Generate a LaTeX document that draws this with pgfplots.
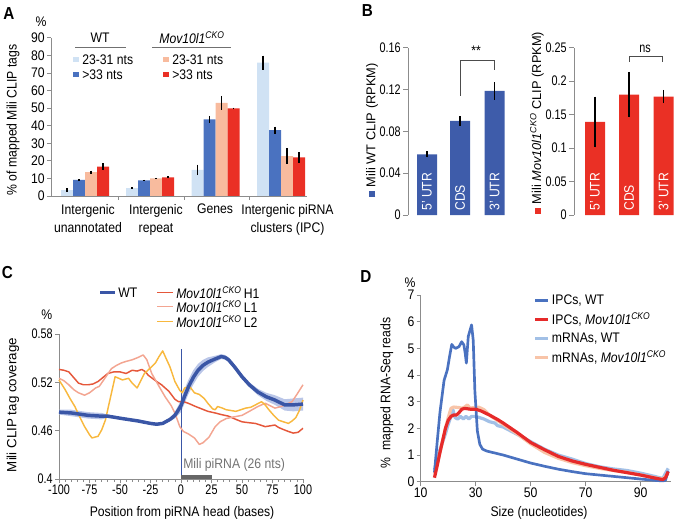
\documentclass[border=0pt]{standalone}
\usepackage{pgfplots}
\pgfplotsset{compat=1.18}
\usepackage{pgfplotstable}
\usepackage{fontspec}
\setmainfont[FakeStretch=0.88]{Liberation Sans}
\newfontfamily\nf[FakeStretch=0.78]{Liberation Sans}
\newfontfamily\wf{Liberation Sans}

\definecolor{axgray}{HTML}{8C8C8C}
\definecolor{lblue}{HTML}{D0E2F4}
\definecolor{mblue}{HTML}{4A72C0}
\definecolor{salm}{HTML}{F8BB9E}
\definecolor{red1}{HTML}{EA3025}
\definecolor{bblue}{HTML}{3E5CAA}
\definecolor{wtc}{HTML}{3A56A6}
\definecolor{bandc}{HTML}{A9B8E2}
\definecolor{h1c}{HTML}{E5573A}
\definecolor{l1c}{HTML}{F3A591}
\definecolor{l2c}{HTML}{F8B83E}
\definecolor{dblue}{HTML}{4A72C0}
\definecolor{dred}{HTML}{E62A2A}
\definecolor{dlblue}{HTML}{A2C0E6}
\definecolor{dsalm}{HTML}{F8C4A8}

\newcommand{\fs}{\fontsize{10.4}{13.7}\selectfont}
\newcommand{\mov}{\textit{Mov10l1}\textsuperscript{\textit{CKO}}}
\newcommand{\pl}{\bfseries\fontsize{13}{13}\selectfont}

\pgfplotsset{
  base/.style={scale only axis, axis line style={draw=axgray, line width=0.6pt},
    tick style={axgray, line width=0.6pt}, tick align=outside,
    major tick length=3pt, minor tick length=2pt,
    tick label style={font=\fs, black, inner sep=1.5pt}},
  ebar/.style={error bars/.cd, y dir=both, y explicit,
    error bar style={black, line width=1.1pt}, error mark=none},
}

% panel C: WT mean
\pgfplotstableread{
x y
-100 0.483
-90 0.482
-76 0.479
-65 0.478
-60 0.478
-48 0.475
-35 0.472
-25 0.469
-20 0.468
-15 0.469
-9 0.474
-5 0.479
-2 0.486
0 0.491
3 0.503
6 0.514
10 0.526
14 0.535
18 0.541
22 0.545
28 0.549
33 0.552
36 0.551
39 0.548
44 0.539
50 0.527
56 0.517
63 0.508
70 0.502
77 0.498
85 0.492
92 0.492
100 0.493
}\wt

\begin{document}
\begin{tikzpicture}[x=0.75pt,y=0.75pt,font=\fs]
\useasboundingbox (0,0) rectangle (674,522);

%%%%%%%%%% A
\begin{axis}[base, at={(51*0.75pt,326*0.75pt)}, anchor=south west,
  width=192pt, height=118.7pt, xmin=51, xmax=307, ymin=0, ymax=90,
  axis lines*=left, xtick={118,184,249}, xticklabels={},
  ytick={0,10,...,90}, yticklabels={0,10,20,30,40,50,60,70,80,90}, clip=false]
\addplot[ybar, bar width=9pt, bar shift=0pt, fill=lblue, draw=none, ebar] coordinates {
 (67,3.4) +- (0,1.0) (132,4.5) +- (0,0.6) (197.5,14.8) +- (0,3.0) (263,75.8) +- (0,4.0)};
\addplot[ybar, bar width=9pt, bar shift=0pt, fill=mblue, draw=none, ebar] coordinates {
 (79,9.1) +- (0,0.4) (144,8.9) +- (0,0.3) (209.5,43.6) +- (0,2.0) (275,37.5) +- (0,2.0)};
\addplot[ybar, bar width=9pt, bar shift=0pt, fill=salm, draw=none, ebar] coordinates {
 (91,13.6) +- (0,0.9) (156,10.0) +- (0,0.3) (221.5,53.0) +- (0,4.0) (287,22.7) +- (0,4.5)};
\addplot[ybar, bar width=9pt, bar shift=0pt, fill=red1, draw=none, ebar] coordinates {
 (103,16.7) +- (0,2.0) (168,10.6) +- (0,0.6) (233.5,49.8) +- (0,0.5) (299,22.0) +- (0,3.0)};
\end{axis}

\node[font=\pl] at (9,508) {A};
\node at (41,500) {\%};
\node[rotate=90] at (13,402) {\% of mapped Mili CLIP tags};
\node at (100,484) {WT};
\draw[axgray!80!black, line width=0.6pt] (75,475) -- (126,475);
\node at (192,484) {\mov};
\draw[axgray!80!black, line width=0.6pt] (152,475) -- (231,475);
\fill[lblue] (73.3,459.8) rectangle (78.7,465.2);
\fill[mblue] (73.3,444.8) rectangle (78.7,450.2);
\fill[salm] (163.3,459.8) rectangle (168.7,465.2);
\fill[red1] (163.3,444.8) rectangle (168.7,450.2);
\node[anchor=west, inner sep=0] at (82,462.5) {23-31 nts};
\node[anchor=west, inner sep=0] at (82,447.5) {>33 nts};
\node[anchor=west, inner sep=0] at (172,462.5) {23-31 nts};
\node[anchor=west, inner sep=0] at (172,447.5) {>33 nts};
\node[anchor=north, align=center, inner sep=0] at (88,318) {Intergenic\\unannotated};
\node[anchor=north, align=center, inner sep=0] at (156,318) {Intergenic\\repeat};
\node[anchor=north, align=center, inner sep=0] at (215,318) {Genes};
\node[anchor=north, align=center, inner sep=0] at (287.5,318) {Intergenic piRNA\\clusters (IPC)};

%%%%%%%%%% B left
\begin{axis}[base, at={(408*0.75pt,307*0.75pt)}, anchor=south west,
  width=80.25pt, height=125.5pt, xmin=408, xmax=515, ymin=0, ymax=0.16,
  axis y line*=left, axis x line=none, xtick=\empty, major tick length=3.75pt,
  ytick={0,0.04,0.08,0.12,0.16}, yticklabels={0,0.04,0.08,0.12,0.16},
  tick label style={font=\nf\fs}, clip=false]
\addplot[ybar, bar width=15pt, bar shift=0pt, fill=bblue, draw=none, ebar] coordinates {
 (427,0.058) +- (0,0.003) (460,0.090) +- (0,0.0046) (494.5,0.1186) +- (0,0.0085)};
\end{axis}

%%%%%%%%%% B right
\begin{axis}[base, at={(574*0.75pt,307*0.75pt)}, anchor=south west,
  width=76.5pt, height=125.5pt, xmin=574, xmax=676, ymin=0, ymax=0.25,
  axis y line*=left, axis x line=none, xtick=\empty, major tick length=3.75pt,
  ytick={0,0.05,0.1,0.15,0.2,0.25}, yticklabels={0,0.05,0.1,0.15,0.2,0.25},
  tick label style={font=\nf\fs}, clip=false]
\addplot[ybar, bar width=15pt, bar shift=0pt, fill=red1, draw=none, ebar] coordinates {
 (595,0.139) +- (0,0.038) (629,0.180) +- (0,0.034) (663.5,0.177) +- (0,0.010)};
\end{axis}

\node[font=\pl] at (367.5,511) {B};
\node[rotate=90, anchor=west, inner sep=0, font=\wf\fontsize{9.6}{11}\selectfont] at (372,325)
  {\textcolor{bblue}{\rule{4.5pt}{4.5pt}}\ Mili WT CLIP (RPKM)};
\node[rotate=90, anchor=west, inner sep=0, font=\wf\fontsize{9.6}{11}\selectfont] at (537,308)
  {\textcolor{red1}{\rule{4.5pt}{4.5pt}}\ Mili \mov\ CLIP (RPKM)};
\foreach \xx/\tt in {427/5’ UTR, 460/CDS, 494.5/3’ UTR, 595/5’ UTR, 629/CDS, 663.5/3’ UTR}
  \node[rotate=90, anchor=west, inner sep=0, white] at (\xx,311) {\tt};
\draw[black!70, line width=0.6pt] (460,426.3) -- (460,462) -- (494,462) -- (494,452);
\node at (476,471) {**};
\draw[black!70, line width=0.6pt] (629,460.3) -- (629,465.3) -- (662,465.3) -- (662,460.3);
\node[font=\nf\fs] at (645,473) {ns};

%%%%%%%%%% C
\begin{axis}[base, at={(59*0.75pt,43*0.75pt)}, anchor=south west,
  width=183pt, height=108.75pt, xmin=-100, xmax=100, ymin=0.4, ymax=0.58,
  axis lines*=left, xtick={-100,-75,...,100},
  xticklabels={-100,-75,-50,-25,0,25,50,75,100}, minor x tick num=4,
  ytick={0.4,0.46,0.52,0.58}, yticklabels={0.4,0.46,0.52,0.58},
  tick label style={font=\nf\fs}, clip=false]
% shaded band round WT: upper edge forward, lower edge back
\addplot[fill=bandc, draw=none, fill opacity=0.8] coordinates {
 (-100,0.486) (-90,0.486) (-76,0.483) (-65,0.482) (-60,0.480) (-48,0.4765) (-35,0.4735)
 (-25,0.4705) (-20,0.4695) (-15,0.4705) (-9,0.476) (-5,0.483) (-2,0.492) (0,0.499)
 (3,0.512) (6,0.523) (10,0.535) (14,0.543) (18,0.548) (22,0.551) (28,0.553) (33,0.555)
 (36,0.554) (39,0.551) (44,0.542) (50,0.530) (56,0.520) (63,0.512) (70,0.507) (77,0.504)
 (85,0.499) (92,0.500) (100,0.501)
 (100,0.485) (92,0.484) (85,0.485) (77,0.492) (70,0.497) (63,0.504) (56,0.514) (50,0.524)
 (44,0.536) (39,0.545) (36,0.548) (33,0.549) (28,0.545) (22,0.539) (18,0.534) (14,0.527)
 (10,0.517) (6,0.505) (3,0.494) (0,0.483) (-2,0.480) (-5,0.475) (-9,0.472) (-15,0.4675)
 (-20,0.4665) (-25,0.4675) (-35,0.4705) (-48,0.4735) (-60,0.476) (-65,0.474) (-76,0.475)
 (-90,0.478) (-100,0.480)};
\draw[wtc, line width=0.6pt] (axis cs:0,0.4) -- (axis cs:0,0.561);
\fill[black!60] (axis cs:0,0.4) rectangle (axis cs:25,0.405);
\addplot[h1c, line width=1.1pt, line join=round] coordinates {
 (-100,0.536) (-96,0.535) (-92,0.533) (-88,0.526) (-84,0.519) (-80,0.517) (-76,0.517)
 (-72,0.518) (-68,0.521) (-64,0.526) (-60,0.531) (-55,0.533) (-50,0.533) (-45,0.531)
 (-40,0.535) (-36,0.534) (-32,0.536) (-29,0.533) (-27,0.529) (-20,0.521) (-16,0.517)
 (-10,0.509) (-5,0.499) (-2,0.496) (2,0.496) (6,0.494) (12,0.490) (17,0.487) (22,0.484)
 (28,0.482) (33,0.480) (39,0.478) (45,0.474) (50,0.471) (55,0.470) (61,0.469) (65,0.467)
 (69,0.465) (73,0.466) (77,0.467) (80,0.464) (83,0.462) (88,0.459) (92,0.457) (96,0.458)
 (100,0.463)};
\addplot[l1c, line width=1.1pt, line join=round] coordinates {
 (-100,0.525) (-96,0.522) (-92,0.517) (-88,0.511) (-84,0.507) (-79,0.504) (-75,0.507)
 (-70,0.513) (-67,0.515) (-62,0.526) (-57,0.537) (-53,0.541) (-49,0.544) (-45,0.546)
 (-40,0.548) (-35,0.551) (-31,0.554) (-28,0.548) (-24,0.531) (-18,0.515) (-13,0.502)
 (-8,0.491) (-5,0.482) (-1,0.465) (2,0.459) (6,0.456) (11,0.451) (15,0.443) (18,0.445)
 (23,0.452) (28,0.465) (32,0.471) (37,0.475) (43,0.477) (50,0.479) (56,0.484) (63,0.490)
 (69,0.494) (73,0.491) (77,0.488) (82,0.490) (87,0.493) (91,0.496) (95,0.505) (100,0.517)};
\addplot[l2c, line width=1.1pt, line join=round] coordinates {
 (-100,0.523) (-95,0.511) (-91,0.500) (-87,0.490) (-83,0.477) (-79,0.465) (-75,0.455)
 (-73,0.451) (-68,0.453) (-65,0.461) (-62,0.473) (-58,0.500) (-54,0.527) (-51,0.525)
 (-48,0.523) (-43,0.525) (-40,0.519) (-36,0.513) (-33,0.522) (-30,0.531) (-25,0.538)
 (-21,0.544) (-18,0.552) (-15,0.559) (-12,0.549) (-9,0.539) (-5,0.521) (-1,0.510)
 (1,0.507) (3,0.513) (7,0.515) (11,0.507) (15,0.505) (19,0.500) (22,0.494) (26,0.487)
 (28,0.486) (30,0.490) (34,0.488) (37,0.486) (41,0.485) (45,0.484) (49,0.486) (53,0.488)
 (57,0.489) (61,0.492) (66,0.496) (69,0.492) (72,0.486) (76,0.479) (80,0.473) (84,0.471)
 (88,0.469) (91,0.472) (94,0.476) (97,0.485) (100,0.498)};
\addplot[wtc, line width=2.6pt, line join=round] table[x=x, y=y] {\wt};
\end{axis}

\node[font=\pl] at (7.5,249) {C};
\node at (46.7,207) {\%};
\node[rotate=90, font=\wf\fontsize{10}{12}\selectfont] at (13,117) {Mili CLIP tag coverage};
\node at (182,9) {Position from piRNA head (bases)};
\node[anchor=west, inner sep=0, black!55] at (183,57) {Mili piRNA (26 nts)};
\draw[wtc, line width=2.6pt] (100,229.7) -- (115,229.7);
\node[anchor=west, inner sep=0] at (118,229.7) {WT};
\draw[h1c, line width=1.1pt] (157,229.7) -- (173,229.7);
\node[anchor=west, inner sep=0] at (176,229.7) {\mov\,H1};
\draw[l1c, line width=1.1pt] (157,215.3) -- (173,215.3);
\node[anchor=west, inner sep=0] at (176,215.3) {\mov\,L1};
\draw[l2c, line width=1.1pt] (157,200.3) -- (173,200.3);
\node[anchor=west, inner sep=0] at (176,200.3) {\mov\,L2};

%%%%%%%%%% D
\begin{axis}[base, at={(420.7*0.75pt,40.3*0.75pt)}, anchor=south west,
  width=187.7pt, height=140pt, xmin=10, xmax=101, ymin=0, ymax=7,
  axis lines*=left, xtick={10,30,50,70,90}, xticklabels={10,30,50,70,90},
  ytick={0,1,...,7}, yticklabels={0,1,2,3,4,5,6,7}, clip=false]
\addplot[dlblue, line width=2.4pt, line join=round] coordinates {
 (15,0.45) (16,0.8) (17,1.2) (18,1.5) (19,1.8) (20,2.15) (21,2.45) (21.7,2.7) (22.5,2.4)
 (23.5,2.35) (24.5,2.45) (25.5,2.35) (26.5,2.45) (27.5,2.35) (28.5,2.45) (30,2.45)
 (31.5,2.4) (33,2.35) (35,2.25) (37,2.2) (38,2.1) (40,2.05) (45,1.78) (50,1.5) (55,1.22)
 (60,1.0) (65,0.85) (70,0.68) (75,0.56) (80,0.48) (85,0.42) (90,0.32) (95,0.2) (98,0.12)
 (100,0.5)};
\addplot[dsalm, line width=2.4pt, line join=round] coordinates {
 (15,0.3) (16,0.7) (17,1.1) (18,1.55) (19,2.0) (20,2.4) (21,2.75) (22,2.8) (24,2.78)
 (25,2.75) (26,2.8) (27,2.88) (28,2.75) (29,2.78) (30,2.75) (31,2.8) (33,2.7) (35,2.5)
 (40,2.15) (45,1.8) (50,1.42) (55,1.1) (60,0.88) (65,0.72) (70,0.6) (75,0.5) (80,0.42)
 (85,0.35) (90,0.25) (95,0.15) (98,0.1) (100,0.3)};
\addplot[dblue, line width=2pt, line join=round] coordinates {
 (15,0.35) (16,1.5) (17,2.6) (18,3.4) (18.5,3.8) (19.7,4.2) (20.5,4.7) (21.3,5.15) (22,5.05)
 (22.7,5.0) (23.9,5.06) (24.9,5.25) (25.7,5.13) (26.2,4.8) (26.6,4.45) (27.3,5.45)
 (28.5,5.88) (29.1,5.3) (29.7,3.4) (30.6,1.9) (31.5,1.4) (32.5,1.22) (34,1.15) (36,1.1)
 (40,1.0) (45,0.85) (50,0.7) (55,0.58) (60,0.47) (65,0.38) (70,0.3) (75,0.25) (80,0.2)
 (85,0.15) (90,0.1) (95,0.05) (98,0.03) (99,0.05) (100,0.4)};
\addplot[dred, line width=2.4pt, line join=round] coordinates {
 (15,0.15) (16,0.6) (17,1.1) (18,1.55) (19,2.0) (20,2.3) (21,2.45) (22,2.5) (23,2.5)
 (24,2.6) (25,2.72) (26,2.75) (28,2.72) (30,2.72) (32,2.65) (35,2.5) (38,2.33) (40,2.2)
 (45,1.85) (50,1.47) (55,1.2) (60,0.95) (65,0.78) (70,0.65) (75,0.54) (80,0.43) (85,0.34)
 (90,0.25) (95,0.14) (98,0.08) (99,0.15) (100,0.38)};
\end{axis}

\node[font=\pl] at (366,245.5) {D};
\node at (410,239.3) {\%};
\node[rotate=90] at (386.7,129) {\%\ \ mapped RNA-Seq reads};
\node at (539,9.3) {Size (nucleotides)};
\draw[dblue, line width=2pt] (535,221.3) -- (548,221.3);
\node[anchor=west, inner sep=0] at (551.7,221.3) {IPCs, WT};
\draw[dred, line width=2.4pt] (535,202.7) -- (548,202.7);
\node[anchor=west, inner sep=0] at (551.7,202.7) {IPCs, \mov};
\draw[dlblue, line width=2.4pt] (535,183.7) -- (548,183.7);
\node[anchor=west, inner sep=0] at (551.7,183.7) {mRNAs, WT};
\draw[dsalm, line width=2.4pt] (535,164.7) -- (548,164.7);
\node[anchor=west, inner sep=0] at (551.7,164.7) {mRNAs, \mov};
\end{tikzpicture}
\end{document}
